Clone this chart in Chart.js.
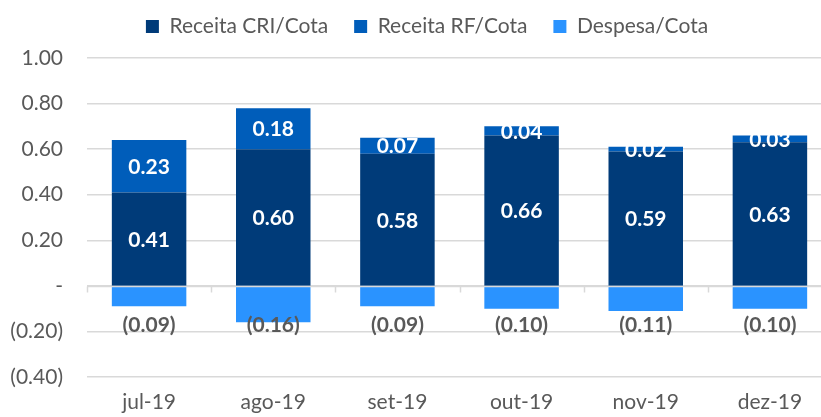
<!DOCTYPE html>
<html>
<head>
<meta charset="utf-8">
<script src="https://cdn.jsdelivr.net/npm/chart.js@4.4.0/dist/chart.umd.min.js"></script>
<style>
  html, body { margin: 0; padding: 0; background: #fff; overflow: hidden; }
  #wrap { width: 836px; height: 417px; }
</style>
</head>
<body>
<div id="wrap"><canvas id="chart"></canvas></div>
<script>
// Data
const months = ['jul-19', 'ago-19', 'set-19', 'out-19', 'nov-19', 'dez-19'];
const receitaCri = [0.41, 0.60, 0.58, 0.66, 0.59, 0.63];
const receitaRf = [0.23, 0.18, 0.07, 0.04, 0.02, 0.03];
const despesa = [-0.09, -0.16, -0.09, -0.10, -0.11, -0.10];

const FONT = 'Lato';
const GREY_TEXT = '#595959';
const GRID = '#D9D9D9';

// Excel-style number format: 0.00;(0.00);-
function fmt(v) {
    if (Math.abs(v) < 1e-9) return '-';
    if (v < 0) return '(' + Math.abs(v).toFixed(2) + ')';
    return v.toFixed(2);
}

// Tweak the space taken by the legend and nudge it right
const legendGap = {
    id: 'legendGap',
    beforeInit(chart) {
        const fit = chart.legend.fit;
        chart.legend.fit = function () {
            fit.bind(chart.legend)();
            this.height += 11;
        };
    },
    afterLayout(chart) {
        chart.legend.left += 8;
        chart.legend.right += 8;
    }
};

// Draws value labels, the zero line and its little tick marks
const barLabels = {
    id: 'barLabels',
    afterDatasetsDraw(chart) {
        const ctx = chart.ctx;
        const x = chart.scales.x;
        const y = chart.scales.y;
        const y0 = Math.round(y.getPixelForValue(0)) + 0.5;
        const area = chart.chartArea;

        ctx.save();
        ctx.strokeStyle = GRID;
        ctx.lineWidth = 1.5;
        ctx.beginPath();
        ctx.moveTo(area.left, y0);
        ctx.lineTo(area.right, y0);
        ctx.stroke();
        const step = x.getPixelForValue(1) - x.getPixelForValue(0);
        for (let i = 0; i <= months.length; i++) {
            const px = Math.round(x.getPixelForValue(i) - step / 2) + 0.5;
            ctx.beginPath();
            ctx.moveTo(px, y0);
            ctx.lineTo(px, y0 + 6);
            ctx.stroke();
        }

        ctx.font = 'bold 21px ' + FONT;
        ctx.textAlign = 'center';
        ctx.textBaseline = 'middle';
        chart.data.datasets.forEach((ds, i) => {
            const meta = chart.getDatasetMeta(i);
            meta.data.forEach((bar, j) => {
                const v = ds.data[j];
                if (v < 0) {
                    ctx.fillStyle = GREY_TEXT;
                    ctx.fillText(fmt(v), bar.x, y.getPixelForValue(-0.175));
                } else {
                    ctx.fillStyle = '#FFFFFF';
                    ctx.fillText(fmt(v), bar.x, (bar.y + bar.base) / 2 + 1);
                }
            });
        });
        ctx.restore();
    }
};

const ctx = document.getElementById('chart').getContext('2d');
const chart = new Chart(ctx, {
    type: 'bar',
    data: {
        labels: months,
        datasets: [
            { label: 'Receita CRI/Cota', data: receitaCri, backgroundColor: '#003B79' },
            { label: 'Receita RF/Cota', data: receitaRf, backgroundColor: '#005DBA' },
            { label: 'Despesa/Cota', data: despesa, backgroundColor: '#2A93FF' }
        ]
    },
    options: {
        responsive: true,
        maintainAspectRatio: false,
        animation: false,
        datasets: {
            bar: { barPercentage: 1, categoryPercentage: 0.6 }
        },
        layout: { padding: { left: 6, right: 4, top: -10, bottom: 2 } },
        plugins: {
            tooltip: { enabled: false },
            legend: {
                position: 'top',
                labels: {
                    color: GREY_TEXT,
                    font: { family: FONT, size: 21 },
                    boxWidth: 13,
                    boxHeight: 13,
                    padding: 26
                }
            }
        },
        scales: {
            x: {
                stacked: true,
                grid: { display: false, drawTicks: false },
                border: { display: false },
                afterFit: (scale) => { scale.height = 38; },
                ticks: {
                    color: GREY_TEXT,
                    font: { family: FONT, size: 21 },
                    padding: 13
                }
            },
            y: {
                stacked: true,
                min: -0.4,
                max: 1.0,
                border: { display: false },
                grid: { color: GRID, lineWidth: 1.5, drawTicks: false },
                afterFit: (scale) => { scale.width = 81; },
                ticks: {
                    stepSize: 0.2,
                    color: GREY_TEXT,
                    font: { family: FONT, size: 21 },
                    padding: 24,
                    callback: (v) => fmt(v)
                }
            }
        }
    },
    plugins: [legendGap, barLabels]
});
</script>
</body>
</html>
